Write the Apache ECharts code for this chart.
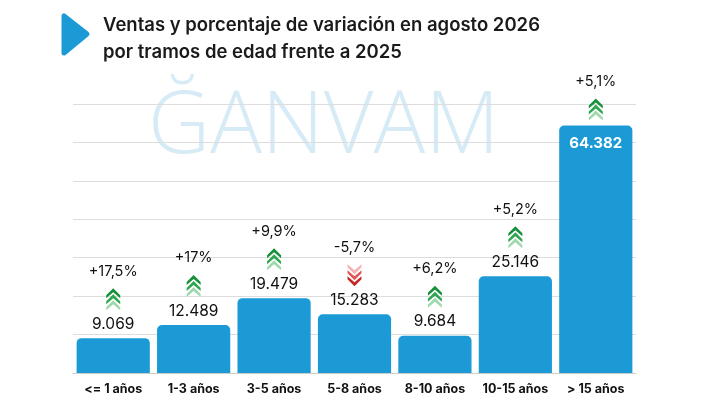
<!DOCTYPE html>
<html><head><meta charset="utf-8">
<script src="https://cdn.jsdelivr.net/npm/echarts@6/dist/echarts.min.js"></script>
<style>html,body{margin:0;background:#fff}#c{width:720px;height:405px}</style>
</head><body><div id="c"></div>
<script>
const categories = ['<= 1 años','1-3 años','3-5 años','5-8 años','8-10 años','10-15 años','> 15 años'];
const sales = [9069, 12489, 19479, 15283, 9684, 25146, 64382];
const variation = ['+17,5%','+17%','+9,9%','-5,7%','+6,2%','+5,2%','+5,1%'];
const direction = [1,1,1,-1,1,1,1];

const fmt = v => v.toLocaleString('de-DE');
const chart = echarts.init(document.getElementById('c'));
const last = sales.length - 1;

function chevrons(cx, cy, dir) {
  const els = [];
  const colsUp = ['#16913a','#2fa650','#9fd8ad'];
  const colsDown = ['#c62828','#e05a5a','#f3b4b4'];
  for (let k = 0; k < 3; k++) {
    const col = dir > 0 ? colsUp[k] : colsDown[2 - k];
    const y0 = cy - 10 + k * 6;
    let pts;
    if (dir > 0) pts = [[cx-7,y0+7],[cx,y0],[cx+7,y0+7],[cx+7,y0+10],[cx,y0+4],[cx-7,y0+10]];
    else pts = [[cx-7,y0],[cx,y0+6],[cx+7,y0],[cx+7,y0+3],[cx,y0+10],[cx-7,y0+3]];
    els.push({type:'polygon', shape:{points:pts}, style:{fill:col}});
  }
  return els;
}

chart.setOption({
  animation:false,
  graphic:[
    {type:'polygon', shape:{points:[[64,16],[64,53],[87,34]]}, style:{fill:'#1c9ad6', stroke:'#1c9ad6', lineWidth:5, lineJoin:'round'}},
    {type:'text', left:103, top:12, style:{text:'Ventas y porcentaje de variación en agosto 2026\npor tramos de edad frente a 2025', font:'600 18.5px Inter, Roboto, sans-serif', fill:'#1a1a1a', lineHeight:27}},
    {type:'text', left:148, top:78, z:-1, style:{text:'ĞANVAM', font:'200 86px "Open Sans", sans-serif', fill:'#d7ebf7', lineHeight:100}}
  ],
  grid:{left:73, right:84, top:104, bottom:32},
  xAxis:{type:'category', data:categories, axisTick:{show:false},
    axisLine:{lineStyle:{color:'#cccccc'}},
    axisLabel:{interval:0, color:'#111', fontWeight:'bold', fontSize:12.5, fontFamily:'Inter, Roboto, sans-serif', margin:10}},
  yAxis:{type:'value', min:0, max:70000, interval:10000, axisLabel:{show:false},
    splitLine:{lineStyle:{color:'#dddddd'}}},
  series:[
    {type:'bar', data:sales.map((v,i)=> i===last ? {value:v, label:{show:false}} : v), barCategoryGap:'9%', itemStyle:{color:'#1c9ad6', borderRadius:[5,5,0,0]},
     label:{show:true, position:'top', distance:6, color:'#111', fontSize:15.5, fontFamily:'Inter, Roboto, sans-serif',
       formatter:p => fmt(p.value)}},
    {type:'custom', data:sales.map((v,i)=>[i,v]), z:5,
     renderItem:(params, api) => {
       const i = api.value(0), v = api.value(1);
       const pt = api.coord([i, v]);
       const children = [];
       if (i === last) {
         children.push({type:'text', style:{text:fmt(v), x:pt[0], y:pt[1]+18, align:'center', verticalAlign:'middle', fill:'#fff', font:'bold 15px Inter, Roboto, sans-serif'}});
       }
       const arrowY = i === last ? pt[1]-17 : pt[1]-40;
       children.push(...chevrons(pt[0], arrowY, direction[i]));
       children.push({type:'text', style:{text:variation[i], x:pt[0], y:arrowY-27, align:'center', verticalAlign:'middle', fill:'#111', font:'14.5px Inter, Roboto, sans-serif'}});
       return {type:'group', children};
     }}
  ]
});
</script></body></html>
